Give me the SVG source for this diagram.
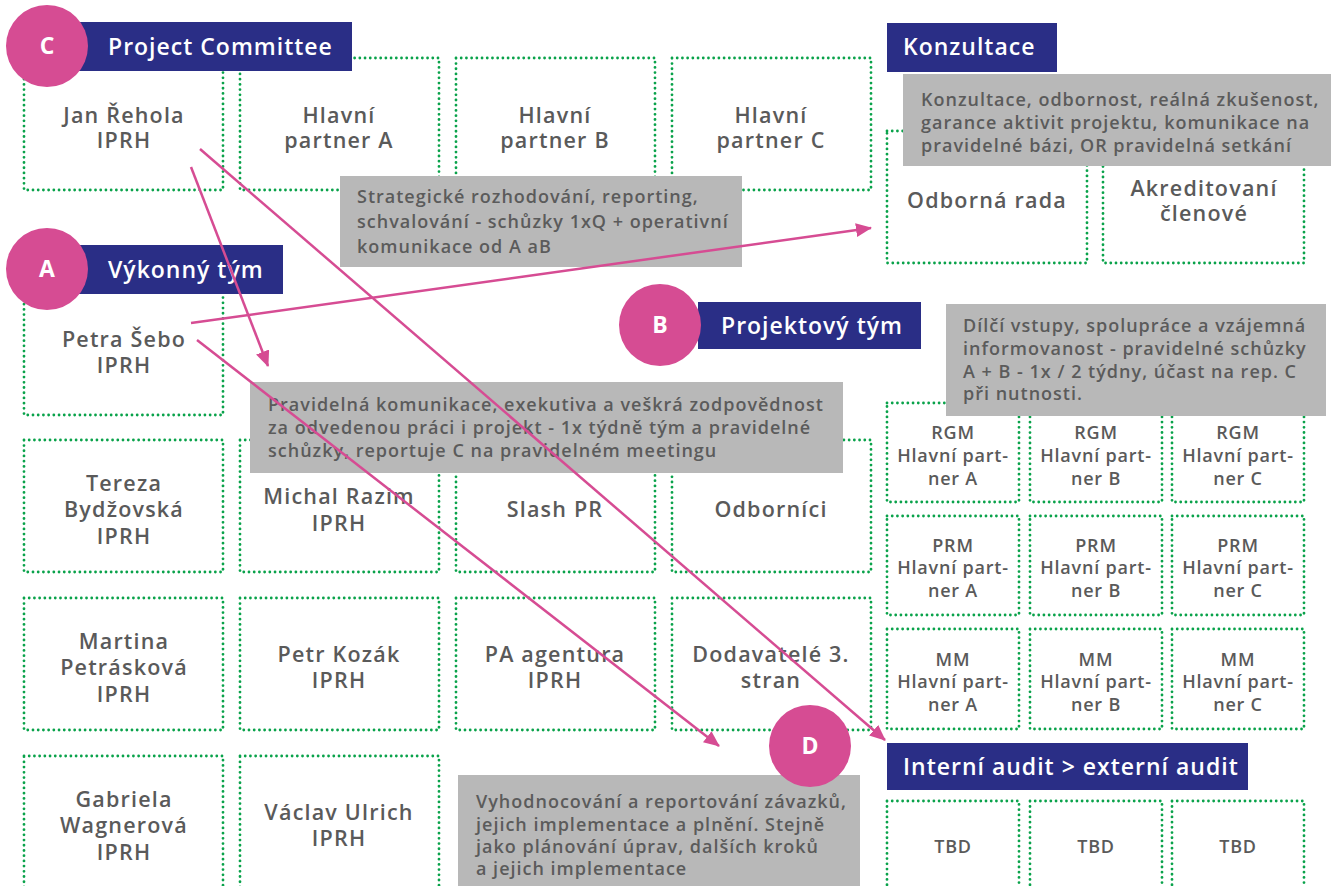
<svg xmlns="http://www.w3.org/2000/svg" width="1331" height="886" viewBox="0 0 1331 886">
<style>
.box{fill:none;stroke:#09a24a;stroke-width:2.8;stroke-dasharray:0.01 5.2;stroke-linecap:round}
.t{font-family:"Open Sans","Liberation Sans",sans-serif;font-weight:600;fill:#5a5a5a;text-anchor:middle;font-size:21.5px;letter-spacing:1.2px}
.ts{font-family:"Open Sans","Liberation Sans",sans-serif;font-weight:600;fill:#5a5a5a;text-anchor:middle;font-size:18px;letter-spacing:0.8px}
.note{fill:#b8b8b8}
.nt{font-family:"Open Sans","Liberation Sans",sans-serif;font-weight:600;fill:#5b5b5b;font-size:18px;letter-spacing:1px}
.hdr{fill:#2a2e86}
.ht{font-family:"Open Sans","Liberation Sans",sans-serif;font-weight:600;fill:#ffffff;font-size:23px;letter-spacing:1px}
.circ{fill:#d64c93}
.ct{font-family:"Open Sans","Liberation Sans",sans-serif;font-weight:700;fill:#ffffff;font-size:23px;text-anchor:middle}
.arr{stroke:#d64c93;stroke-width:2.5;fill:none;marker-end:url(#ah)}
</style>
<defs>
<marker id="ah" markerWidth="16" markerHeight="14" refX="15" refY="7" orient="auto" markerUnits="userSpaceOnUse">
<path d="M0,0 L16,7 L0,14 Z" fill="#d64c93"/>
</marker>
</defs>
<rect width="1331" height="886" fill="#ffffff"/>

<!-- Left grid -->
<g id="n-jan"><rect class="box" x="24" y="58" width="199" height="132"/><text class="t" x="124" y="123">Jan Řehola</text><text class="t" x="124" y="148">IPRH</text></g>
<g id="n-hpa"><rect class="box" x="240" y="58" width="199" height="132"/><text class="t" x="339" y="123">Hlavní</text><text class="t" x="339" y="148">partner A</text></g>
<g id="n-hpb"><rect class="box" x="456" y="58" width="199" height="132"/><text class="t" x="555" y="123">Hlavní</text><text class="t" x="555" y="148">partner B</text></g>
<g id="n-hpc"><rect class="box" x="672" y="58" width="199" height="132"/><text class="t" x="771" y="123">Hlavní</text><text class="t" x="771" y="148">partner C</text></g>

<g id="n-petra"><rect class="box" x="24" y="283" width="199" height="132"/><text class="t" x="124" y="347">Petra Šebo</text><text class="t" x="124" y="373">IPRH</text></g>

<g id="n-tereza"><rect class="box" x="24" y="440" width="199" height="132"/><text class="t" x="124" y="491">Tereza</text><text class="t" x="124" y="517">Bydžovská</text><text class="t" x="124" y="544">IPRH</text></g>
<g id="n-michal"><rect class="box" x="240" y="440" width="199" height="132"/><text class="t" x="339" y="504">Michal Razim</text><text class="t" x="339" y="531">IPRH</text></g>
<g id="n-slash"><rect class="box" x="456" y="440" width="199" height="132"/><text class="t" x="555" y="517">Slash PR</text></g>
<g id="n-odbornici"><rect class="box" x="672" y="440" width="199" height="132"/><text class="t" x="771" y="517">Odborníci</text></g>

<g id="n-martina"><rect class="box" x="24" y="598" width="199" height="132"/><text class="t" x="124" y="649">Martina</text><text class="t" x="124" y="675">Petrásková</text><text class="t" x="124" y="702">IPRH</text></g>
<g id="n-petr"><rect class="box" x="240" y="598" width="199" height="132"/><text class="t" x="339" y="662">Petr Kozák</text><text class="t" x="339" y="688">IPRH</text></g>
<g id="n-pa"><rect class="box" x="456" y="598" width="199" height="132"/><text class="t" x="555" y="662">PA agentura</text><text class="t" x="555" y="688">IPRH</text></g>
<g id="n-dod"><rect class="box" x="672" y="598" width="199" height="132"/><text class="t" x="771" y="662">Dodavatelé 3.</text><text class="t" x="771" y="688">stran</text></g>

<g id="n-gabriela"><rect class="box" x="24" y="756" width="199" height="140"/><text class="t" x="124" y="807">Gabriela</text><text class="t" x="124" y="833">Wagnerová</text><text class="t" x="124" y="860">IPRH</text></g>
<g id="n-vaclav"><rect class="box" x="240" y="756" width="199" height="140"/><text class="t" x="339" y="820">Václav Ulrich</text><text class="t" x="339" y="846">IPRH</text></g>

<!-- Right grid -->
<g id="n-odborna"><rect class="box" x="887" y="131" width="200" height="132"/><text class="t" x="987" y="208">Odborná rada</text></g>
<g id="n-akred"><rect class="box" x="1103" y="131" width="201" height="132"/><text class="t" x="1204" y="196">Akreditovaní</text><text class="t" x="1204" y="221">členové</text></g>

<g id="n-rgm-a"><rect class="box" x="887" y="403" width="132" height="99"/><text class="ts" x="953" y="439">RGM</text><text class="ts" x="953" y="462">Hlavní part-</text><text class="ts" x="953" y="485">ner A</text></g>
<g id="n-rgm-b"><rect class="box" x="1030" y="403" width="132" height="99"/><text class="ts" x="1096" y="439">RGM</text><text class="ts" x="1096" y="462">Hlavní part-</text><text class="ts" x="1096" y="485">ner B</text></g>
<g id="n-rgm-c"><rect class="box" x="1172" y="403" width="132" height="99"/><text class="ts" x="1238" y="439">RGM</text><text class="ts" x="1238" y="462">Hlavní part-</text><text class="ts" x="1238" y="485">ner C</text></g>
<g id="n-prm-a"><rect class="box" x="887" y="516" width="132" height="99"/><text class="ts" x="953" y="552">PRM</text><text class="ts" x="953" y="574">Hlavní part-</text><text class="ts" x="953" y="597">ner A</text></g>
<g id="n-prm-b"><rect class="box" x="1030" y="516" width="132" height="99"/><text class="ts" x="1096" y="552">PRM</text><text class="ts" x="1096" y="574">Hlavní part-</text><text class="ts" x="1096" y="597">ner B</text></g>
<g id="n-prm-c"><rect class="box" x="1172" y="516" width="132" height="99"/><text class="ts" x="1238" y="552">PRM</text><text class="ts" x="1238" y="574">Hlavní part-</text><text class="ts" x="1238" y="597">ner C</text></g>
<g id="n-mm-a"><rect class="box" x="887" y="629" width="132" height="100"/><text class="ts" x="953" y="666">MM</text><text class="ts" x="953" y="688">Hlavní part-</text><text class="ts" x="953" y="711">ner A</text></g>
<g id="n-mm-b"><rect class="box" x="1030" y="629" width="132" height="100"/><text class="ts" x="1096" y="666">MM</text><text class="ts" x="1096" y="688">Hlavní part-</text><text class="ts" x="1096" y="711">ner B</text></g>
<g id="n-mm-c"><rect class="box" x="1172" y="629" width="132" height="100"/><text class="ts" x="1238" y="666">MM</text><text class="ts" x="1238" y="688">Hlavní part-</text><text class="ts" x="1238" y="711">ner C</text></g>

<g id="n-tbd1"><rect class="box" x="887" y="801" width="132" height="100"/><text class="ts" x="953" y="853">TBD</text></g>
<g id="n-tbd2"><rect class="box" x="1030" y="801" width="132" height="100"/><text class="ts" x="1096" y="853">TBD</text></g>
<g id="n-tbd3"><rect class="box" x="1172" y="801" width="132" height="100"/><text class="ts" x="1238" y="853">TBD</text></g>

<!-- Notes -->
<g id="note-strat"><rect class="note" x="340" y="176" width="402" height="91"/>
<text class="nt" x="357" y="203">Strategické rozhodování, reporting,</text>
<text class="nt" x="357" y="228">schvalování - schůzky 1xQ + operativní</text>
<text class="nt" x="357" y="253">komunikace od A aB</text></g>
<g id="note-konz"><rect class="note" x="903" y="74" width="428" height="92"/>
<text class="nt" x="921" y="106">Konzultace, odbornost, reálná zkušenost,</text>
<text class="nt" x="921" y="129">garance aktivit projektu, komunikace na</text>
<text class="nt" x="921" y="152">pravidelné bázi, OR pravidelná setkání</text></g>
<g id="note-dilci"><rect class="note" x="946" y="304" width="380" height="112"/>
<text class="nt" x="963" y="332">Dílčí vstupy, spolupráce a vzájemná</text>
<text class="nt" x="963" y="355">informovanost - pravidelné schůzky</text>
<text class="nt" x="963" y="378">A + B - 1x / 2 týdny, účast na rep. C</text>
<text class="nt" x="963" y="400">při nutnosti.</text></g>
<g id="note-prav"><rect class="note" x="250" y="382" width="593" height="91"/>
<text class="nt" x="268" y="411">Pravidelná komunikace, exekutiva a veškrá zodpovědnost</text>
<text class="nt" x="268" y="434">za odvedenou práci i projekt - 1x týdně tým a pravidelné</text>
<text class="nt" x="268" y="457">schůzky, reportuje C na pravidelném meetingu</text></g>
<g id="note-d"><rect class="note" x="458" y="775" width="402" height="111"/>
<text class="nt" x="476" y="808">Vyhodnocování a reportování závazků,</text>
<text class="nt" x="476" y="831">jejich implementace a plnění. Stejně</text>
<text class="nt" x="476" y="853">jako plánování úprav, dalších kroků</text>
<text class="nt" x="476" y="875">a jejich implementace</text></g>

<!-- Headers -->
<g id="h-c"><rect class="hdr" x="78" y="22" width="274" height="49"/><text class="ht" x="108" y="55">Project Committee</text></g>
<g id="h-a"><rect class="hdr" x="78" y="245" width="205" height="49"/><text class="ht" x="108" y="278">Výkonný tým</text></g>
<g id="h-b"><rect class="hdr" x="698" y="302" width="223" height="47"/><text class="ht" x="721" y="334">Projektový tým</text></g>
<g id="h-k"><rect class="hdr" x="887" y="23" width="170" height="49"/><text class="ht" x="903" y="55">Konzultace</text></g>
<g id="h-d"><rect class="hdr" x="887" y="743" width="361" height="47"/><text class="ht" x="903" y="775">Interní audit &gt; externí audit</text></g>

<!-- Connectors -->
<g id="connectors">
<line class="arr" x1="191" y1="167" x2="268" y2="366"/>
<line class="arr" x1="200" y1="149" x2="885" y2="740"/>
<line class="arr" x1="191" y1="323" x2="871" y2="228"/>
<line class="arr" x1="197" y1="340" x2="719" y2="746"/>
</g>

<!-- Badges -->
<g id="b-c"><circle class="circ" cx="47" cy="46" r="41"/><text class="ct" x="47" y="54">C</text></g>
<g id="b-a"><circle class="circ" cx="47" cy="269" r="41"/><text class="ct" x="47" y="277">A</text></g>
<g id="b-b"><circle class="circ" cx="660" cy="325" r="41"/><text class="ct" x="660" y="333">B</text></g>
<g id="b-d"><circle class="circ" cx="810" cy="746" r="41"/><text class="ct" x="810" y="754">D</text></g>
</svg>
